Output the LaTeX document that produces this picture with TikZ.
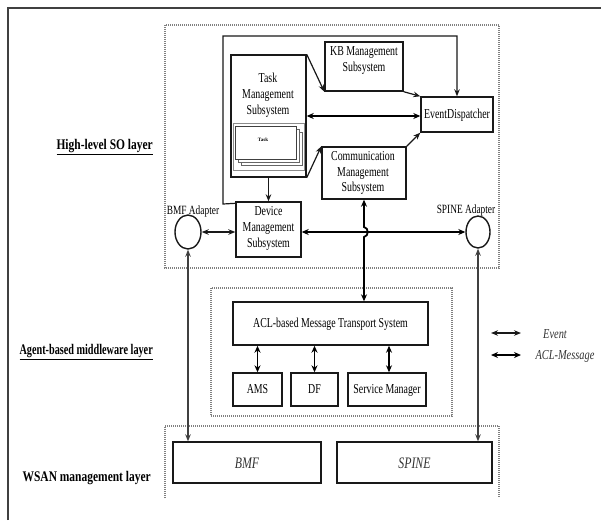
\documentclass[tikz,border=0pt]{standalone}
\usepackage{fontspec}
\setmainfont{Liberation Serif}
\usetikzlibrary{arrows.meta,calc,shapes.geometric}
% narrow, tall lettering: scale a centred block horizontally
\newcommand{\sq}[2][0.76]{\scalebox{#1}[1.05]{\begin{tabular}{@{}c@{}}#2\end{tabular}}}
\begin{document}
\begin{tikzpicture}[x=1pt,y=-1pt,
  box/.style={draw=black!90, line width=1.4pt, inner sep=0pt, fill=white},
  txt/.style={font=\fontsize{13}{15}\selectfont, inner sep=0pt, text=black},
  itx/.style={font=\fontsize{16}{18}\selectfont\itshape, inner sep=0pt, text=black!80},
  layer/.style={font=\fontsize{14}{16}\selectfont\bfseries, inner sep=0pt, anchor=east},
  zone/.style={draw=black!50, line width=1.4pt, dash pattern=on 1pt off 1pt},
  adapter/.style={ellipse, draw=black!90, line width=1.4pt, inner sep=0pt, fill=white},
  ev/.style={draw=black!90, line width=1.2pt, -{Stealth[length=7pt,width=5.5pt]}},
  evboth/.style={draw=black!90, line width=1.2pt, {Stealth[length=7pt,width=5.5pt]}-{Stealth[length=7pt,width=5.5pt]}},
  aclm/.style={draw=black, line width=1.8pt, {Stealth[length=7pt,width=6pt]}-{Stealth[length=7pt,width=6pt]}},
  thin/.style={draw=black!75, line width=1.2pt, {Stealth[length=7pt,width=5.5pt]}-{Stealth[length=7pt,width=5.5pt]}},
  page/.style={draw=black!60, line width=0.8pt, fill=white}]
\useasboundingbox (0,0) rectangle (601,520);

% page frame
\draw[black!75, line width=1.4pt] (8,520) -- (8,8) -- (601,8);

% layer zones
\draw[zone] (165,25) rectangle (499,268);
\draw[zone] (211,288) rectangle (452,416);
\draw[zone] (165,498) -- (165,426) -- (499,426) -- (499,498);

% layer names
\node[layer] (lso) at (153,147) {\scalebox{0.82}[1.05]{\underline{High-level SO layer}}};
\node[layer] (lmw) at (153,352) {\scalebox{0.73}[1.05]{\underline{Agent-based middleware layer}}};
\node[layer] (lws) at (151,478) {\scalebox{0.82}[1.05]{WSAN management layer}};

% high-level SO layer
\node[box, minimum width=75pt, minimum height=122pt] (task) at (268.5,116) {};
\node[txt] (taskt) at (268,95.5) {\sq{Task\\Management\\Subsystem}};
\draw[black!45, line width=0.8pt] (233,123) rectangle (304,170);
\node[page, minimum width=61pt, minimum height=33pt] (pg3) at (271.5,148.5) {};
\node[page, minimum width=61pt, minimum height=33pt] (pg2) at (268.5,145.5) {};
\node[page, minimum width=61pt, minimum height=33pt, draw=black!75] (pg1) at (265.5,142.5) {};
\node[font=\fontsize{5}{6}\selectfont\bfseries, inner sep=0pt] (pgt) at (263,140) {Task};

\node[box, minimum width=78pt, minimum height=49pt] (kb) at (364,66.5) {};
\node[txt] (kbt) at (364,60.5) {\sq{KB Management\\Subsystem}};
\node[box, minimum width=72pt, minimum height=35pt] (ed) at (457,114.5) {};
\node[txt] (edt) at (457,115) {\sq{EventDispatcher}};
\node[box, minimum width=84pt, minimum height=52pt] (comm) at (364,173) {};
\node[txt] (commt) at (363,173) {\sq{Communication\\Management\\Subsystem}};
\node[box, minimum width=65pt, minimum height=55pt] (dev) at (268.5,229.5) {};
\node[txt] (devt) at (268.5,228.5) {\sq{Device\\Management\\Subsystem}};

\node[adapter, minimum width=26pt, minimum height=34pt] (bmfad) at (188,232) {};
\node[txt, font=\fontsize{12}{14}\selectfont] (bmfadt) at (193,212) {\sq[0.78]{BMF Adapter}};
\node[adapter, minimum width=24pt, minimum height=32pt] (spinead) at (478,232) {};
\node[txt, font=\fontsize{12}{14}\selectfont] (spineadt) at (466,211) {\sq[0.78]{SPINE Adapter}};

% agent-based middleware layer
\node[box, minimum width=195pt, minimum height=43pt] (acl) at (330.5,323.5) {};
\node[txt] (aclt) at (330.5,324) {\sq{ACL-based Message Transport System}};
\node[box, minimum width=49pt, minimum height=33pt] (ams) at (257.5,389.5) {};
\node[txt] (amst) at (257.5,390) {\sq{AMS}};
\node[box, minimum width=47pt, minimum height=33pt] (df) at (314.5,389.5) {};
\node[txt] (dft) at (314.5,390) {\sq{DF}};
\node[box, minimum width=78pt, minimum height=33pt] (sm) at (387,389.5) {};
\node[txt] (smt) at (387,390) {\sq{Service Manager}};

% WSAN management layer
\node[box, minimum width=148pt, minimum height=41pt] (bmf) at (247,462.5) {};
\node[itx] (bmft) at (247,463) {\scalebox{0.74}[1]{BMF}};
\node[box, minimum width=155pt, minimum height=41pt] (spine) at (414.5,462.5) {};
\node[itx] (spinet) at (414.5,463) {\scalebox{0.74}[1]{SPINE}};

% event flow inside the SO layer
\coordinate (fr1) at (223,204);
\coordinate (fr2) at (223,36);
\draw[ev] ($(dev.north west)+(0,2)$) -- (fr1) -- (fr2) -- (ed.north |- fr2) -- (ed.north);
\draw[ev] (task.north east) -- (kb.south west);
\draw[ev] (kb.south east) -- (ed.north west);
\draw[aclm] (task.east) -- (task.east -| ed.west);
\draw[ev] (task.south east) -- (comm.north west);
\draw[ev] (comm.north east) -- (ed.south west);
\draw[ev] (task.south) -- (dev.north);
\draw[evboth] (bmfad.east) -- (bmfad.east -| dev.west);
\draw[aclm] (dev.east |- spinead.west) -- (spinead.west);

% communication subsystem to transport system, hopping over the adapter line
\coordinate (h1) at (364,227);
\coordinate (h2) at (364,237);
\draw[aclm] (comm.south) -- (h1) .. controls (369,228) and (369,236) .. (h2) -- (comm.south |- acl.north);

% transport system to platform agents
\draw[aclm] (ams.north |- acl.south) -- (ams.north);
\draw[aclm] (df.north |- acl.south) -- (df.north);
\draw[aclm] ([xshift=2pt]sm.north |- acl.south) -- ([xshift=2pt]sm.north);

% adapters to WSAN platforms
\draw[thin] (bmfad.south) -- (bmfad.south |- bmf.north);
\draw[thin] (spinead.south) -- (spinead.south |- spine.north);

% legend
\coordinate (lg1) at (491,333);
\coordinate (lg2) at (521,333);
\coordinate (lg3) at (491,355);
\coordinate (lg4) at (521,355);
\draw[evboth] (lg1) -- (lg2);
\draw[aclm] (lg3) -- (lg4);
\node[txt, font=\fontsize{13}{15}\selectfont\itshape, text=black!80] (lgev) at (555,335) {\sq[0.8]{Event}};
\node[txt, font=\fontsize{13}{15}\selectfont\itshape, text=black!80] (lgacl) at (565,356) {\sq[0.8]{ACL-Message}};
\end{tikzpicture}
\end{document}
